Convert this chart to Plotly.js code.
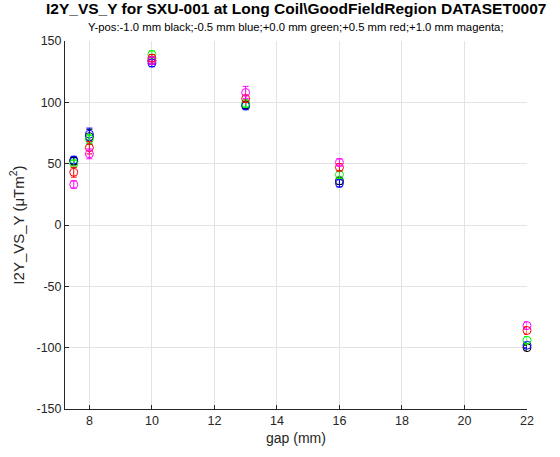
<!DOCTYPE html>
<html>
<head>
<meta charset="utf-8">
<script src="https://cdn.plot.ly/plotly-3.0.1.min.js"></script>
<style>html,body{margin:0;padding:0;background:#fff;}#plot{width:560px;height:457px;}</style>
</head>
<body>
<div id="plot"></div>
<script>
var gap = [7.5, 8, 10, 13, 16, 22];
var seriesNames = ["-1.0 mm", "-0.5 mm", "+0.0 mm", "+0.5 mm", "+1.0 mm"];
var seriesColors = ["#000000", "#0000ff", "#00ff00", "#ff0000", "#ff00ff"];
var valBlack   = [52, 72, 134, 98, 36, -100];
var valBlue    = [53, 74, 132, 97, 34, -98];
var valGreen   = [50, 70, 139, 99, 41, -94];
var valRed     = [43, 63, 136, 103, 47, -86];
var valMagenta = [33, 58, 134, 108, 51, -82];
var errBlack   = [3, 6, 3, 3, 3, 2];
var errBlue    = [3, 5, 3, 3, 3, 2];
var errGreen   = [3, 4, 3, 3, 3, 3];
var errRed     = [4, 5, 3, 3, 3, 3];
var errMagenta = [3, 4, 3, 5, 3, 3];
var xTicks = [8, 10, 12, 14, 16, 18, 20, 22];
var yTicks = [-150, -100, -50, 0, 50, 100, 150];

var vals = [valBlack, valBlue, valGreen, valRed, valMagenta];
var errs = [errBlack, errBlue, errGreen, errRed, errMagenta];
var data = vals.map(function(v, i) {
  return {
    x: gap, y: v, type: 'scatter', mode: 'markers', name: seriesNames[i],
    cliponaxis: false,
    marker: {symbol: 'circle-open', size: 8, color: seriesColors[i], line: {width: 1, color: seriesColors[i]}},
    error_y: {type: 'data', array: errs[i], visible: true, color: seriesColors[i], thickness: 1, width: 3},
    showlegend: false
  };
});

var tickFont = {family: 'Liberation Sans, Arial, sans-serif', size: 12.5, color: '#262626'};
var layout = {
  width: 560, height: 457,
  margin: {l: 65, r: 33, t: 41, b: 48},
  paper_bgcolor: '#ffffff', plot_bgcolor: '#ffffff',
  showlegend: false,
  xaxis: {
    range: [7.22, 22], tickvals: xTicks, ticktext: xTicks.map(String),
    showgrid: true, gridcolor: '#e3e3e3', gridwidth: 1, zeroline: false,
    showline: true, linecolor: '#262626', linewidth: 1, mirror: false,
    ticks: 'inside', ticklen: 4, tickcolor: '#262626',
    tickfont: tickFont,
    title: {text: 'gap (mm)', font: {family: 'Liberation Sans, Arial, sans-serif', size: 14, color: '#262626'}, standoff: 6}
  },
  yaxis: {
    range: [-150, 150], tickvals: yTicks, ticktext: yTicks.map(String),
    showgrid: true, gridcolor: '#e3e3e3', gridwidth: 1, zeroline: false,
    showline: true, linecolor: '#262626', linewidth: 1, mirror: false,
    ticks: 'inside', ticklen: 4, tickcolor: '#262626',
    tickfont: tickFont,
    title: {text: 'I2Y_VS_Y (\u03bcTm<sup>2</sup>)', font: {family: 'Liberation Sans, Arial, sans-serif', size: 15, color: '#262626'}, standoff: 8}
  },
  annotations: [
    {text: '<b>I2Y_VS_Y for SXU-001 at Long Coil\\GoodFieldRegion DATASET0007</b>',
     xref: 'paper', yref: 'paper', x: 0.5, y: 1, yshift: 33, xanchor: 'center', yanchor: 'middle',
     showarrow: false, font: {family: 'Liberation Sans, Arial, sans-serif', size: 15.5, color: '#000000'}},
    {text: 'Y-pos:-1.0 mm black;-0.5 mm blue;+0.0 mm green;+0.5 mm red;+1.0 mm magenta;',
     xref: 'paper', yref: 'paper', x: 0.5, y: 1, yshift: 14, xanchor: 'center', yanchor: 'middle',
     showarrow: false, font: {family: 'Liberation Sans, Arial, sans-serif', size: 11.3, color: '#000000'}}
  ]
};
Plotly.newPlot('plot', data, layout, {displayModeBar: false, staticPlot: true});
</script>
</body>
</html>
